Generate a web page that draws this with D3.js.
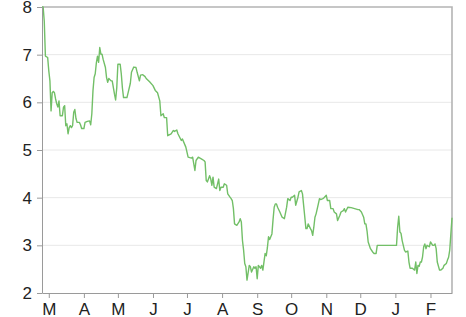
<!DOCTYPE html>
<html>
<head>
<meta charset="utf-8">
<script src="https://cdn.jsdelivr.net/npm/d3@7"></script>
<style>
  html, body { margin: 0; padding: 0; background: #fff; }
  svg { display: block; }
  .tick text { font-family: "Liberation Sans", Arial, Helvetica, sans-serif; font-size: 17px; fill: #222; }
</style>
</head>
<body>
<div id="graph"></div>
<script>
// daily series, day numbers counted from the first date
var startDate = new Date(2014, 1, 23)
var endDate = new Date(2015, 1, 20)

var days = [
  0, 1, 2, 3, 5, 6, 7, 8, 9, 10, 11, 12, 13, 14, 15, 16, 18, 19, 20, 21,
  22, 23, 24, 25, 26, 27, 28, 29, 30, 31, 33, 34, 35, 37, 38, 40, 42, 43, 44, 45,
  46, 47, 48, 49, 50, 51, 52, 53, 54, 56, 57, 58, 59, 61, 62, 64, 65, 66, 67, 69,
  70, 71, 72, 75, 76, 78, 79, 81, 83, 84, 86, 87, 89, 91, 92, 95, 98, 100, 102, 104,
  105, 107, 108, 110, 111, 114, 116, 117, 119, 120, 123, 124, 127, 129, 132, 133, 135, 136, 138, 141,
  143, 144, 145, 146, 148, 149, 150, 151, 152, 154, 155, 156, 157, 158, 160, 161, 163, 164, 166, 167,
  168, 169, 170, 172, 174, 175, 176, 177, 178, 179, 180, 181, 183, 184, 185, 187, 188, 189, 190, 191,
  193, 194, 195, 197, 198, 199, 200, 201, 203, 204, 205, 206, 207, 208, 210, 212, 214, 216, 217, 219,
  220, 221, 223, 224, 226, 227, 229, 230, 232, 233, 234, 235, 237, 238, 239, 240, 241, 242, 244, 245,
  246, 248, 249, 251, 252, 254, 255, 257, 258, 260, 261, 263, 264, 266, 267, 268, 270, 273, 276, 279,
  280, 282, 284, 285, 286, 287, 288, 290, 292, 293, 295, 296, 299, 313, 314, 315, 316, 317, 318, 320,
  321, 323, 324, 325, 327, 329, 330, 331, 332, 333, 334, 335, 336, 337, 338, 339, 340, 342, 343, 345,
  346, 347, 348, 349, 351, 352, 354, 355, 357, 358, 359, 360, 361, 362
]

var values = [
  8.0, 8.0, 7.7, 6.97, 6.94, 6.66, 6.45, 5.82, 6.2, 6.23, 6.2, 6.07, 5.97, 5.9, 6.03, 5.72, 5.72, 5.9, 5.93, 5.51,
  5.55, 5.34, 5.47, 5.51, 5.47, 5.51, 5.79, 5.85, 5.66, 5.58, 5.58, 5.53, 5.45, 5.45, 5.58, 5.6, 5.61, 5.53, 5.76, 6.24,
  6.52, 6.6, 6.83, 6.97, 6.84, 7.15, 7.01, 7.01, 6.9, 6.73, 6.52, 6.42, 6.5, 6.45, 6.45, 6.17, 6.05, 6.3, 6.8, 6.8,
  6.6, 6.3, 6.1, 6.1, 6.2, 6.4, 6.63, 6.74, 6.73, 6.63, 6.45, 6.57, 6.58, 6.54, 6.5, 6.43, 6.35, 6.25, 6.2, 6.03,
  5.72, 5.76, 5.68, 5.68, 5.3, 5.34, 5.41, 5.39, 5.42, 5.34, 5.2, 5.23, 5.06, 4.85, 4.83, 4.85, 4.57, 4.78, 4.85, 4.81,
  4.78, 4.75, 4.36, 4.33, 4.46, 4.39, 4.26, 4.43, 4.22, 4.19, 4.29, 4.39, 4.15, 4.22, 4.22, 4.29, 4.26, 4.08, 4.01, 3.98,
  3.94, 3.77, 3.45, 3.42, 3.49, 3.56, 3.49, 3.1, 2.9, 2.62, 2.55, 2.27, 2.58, 2.55, 2.44, 2.55, 2.52, 2.55, 2.3, 2.58,
  2.52, 2.58, 2.48, 2.83, 2.78, 2.95, 3.18, 3.12, 3.24, 3.54, 3.8, 3.87, 3.87, 3.8, 3.7, 3.59, 3.56, 3.8, 3.98, 3.94,
  4.01, 4.01, 4.05, 3.84, 4.01, 4.12, 4.15, 4.08, 3.6, 3.35, 3.35, 3.45, 3.35, 3.31, 3.21, 3.38, 3.59, 3.66, 3.87, 3.98,
  3.96, 3.98, 4.0, 4.05, 3.94, 3.94, 3.77, 3.77, 3.7, 3.66, 3.52, 3.63, 3.7, 3.73, 3.77, 3.7, 3.8, 3.79, 3.77, 3.75,
  3.75, 3.7, 3.59, 3.45, 3.45, 3.3, 3.07, 2.93, 2.86, 2.83, 2.83, 3.0, 3.0, 3.0, 3.38, 3.61, 3.28, 3.25, 3.1, 2.9,
  2.86, 2.88, 2.65, 2.52, 2.52, 2.48, 2.65, 2.41, 2.58, 2.56, 2.65, 2.65, 2.76, 2.97, 3.03, 2.93, 3.0, 2.97, 3.07, 3.0,
  3.0, 3.03, 2.93, 2.65, 2.48, 2.48, 2.52, 2.58, 2.62, 2.69, 2.75, 2.9, 3.24, 3.58
]

var yTicks = [2, 3, 4, 5, 6, 7, 8]
var gridValues = [3, 4, 5, 6, 7]

var width = 466
var height = 317
var marginLeft = 42
var marginRight = 14
var marginTop = 7
var marginBottom = 24

var data = days.map(function(d, i) {
  return { date: d3.timeDay.offset(startDate, d), value: values[i] }
})

var svg = d3.select('#graph').append('svg')
  .attr('width', width)
  .attr('height', height)

var xScale = d3.scaleTime()
  .domain([startDate, endDate])
  .range([marginLeft, width - marginRight])

var yScale = d3.scaleLinear()
  .domain([2, 8])
  .range([height - marginBottom, marginTop])

// horizontal grid
svg.append('g')
  .selectAll('line')
  .data(gridValues)
  .enter().append('line')
  .attr('x1', marginLeft)
  .attr('x2', width - marginRight)
  .attr('y1', function(d) { return yScale(d) })
  .attr('y2', function(d) { return yScale(d) })
  .attr('stroke', '#e8e8e8')
  .attr('stroke-width', 1)

// top and right frame
svg.append('path')
  .attr('d', 'M' + marginLeft + ',' + yScale(8) + 'H' + xScale(endDate) + 'V' + yScale(2))
  .attr('fill', 'none')
  .attr('stroke', '#b4b4b4')
  .attr('stroke-width', 1.6)

var line = d3.line()
  .x(function(d) { return xScale(d.date) })
  .y(function(d) { return yScale(d.value) })

svg.append('path')
  .datum(data)
  .attr('d', line)
  .attr('fill', 'none')
  .attr('stroke', '#72bf67')
  .attr('stroke-width', 1.4)
  .attr('stroke-linejoin', 'round')

var xAxis = d3.axisBottom(xScale)
  .ticks(d3.timeMonth.every(1))
  .tickFormat(function(d) { return d3.timeFormat('%B')(d).charAt(0) })
  .tickSizeInner(5)
  .tickSizeOuter(0)
  .tickPadding(5)

var yAxis = d3.axisLeft(yScale)
  .tickValues(yTicks)
  .tickFormat(d3.format('d'))
  .tickSizeInner(5)
  .tickSizeOuter(0)
  .tickPadding(5)

var gx = svg.append('g')
  .attr('transform', 'translate(0,' + (height - marginBottom) + ')')
  .call(xAxis)

var gy = svg.append('g')
  .attr('transform', 'translate(' + marginLeft + ',0)')
  .call(yAxis)

gx.selectAll('.domain, .tick line').attr('stroke', '#9a9a9a')
gy.selectAll('.domain, .tick line').attr('stroke', '#9a9a9a')
gx.selectAll('text').attr('font-family', null).attr('font-size', null)
gy.selectAll('text').attr('font-family', null).attr('font-size', null)
</script>
</body>
</html>
